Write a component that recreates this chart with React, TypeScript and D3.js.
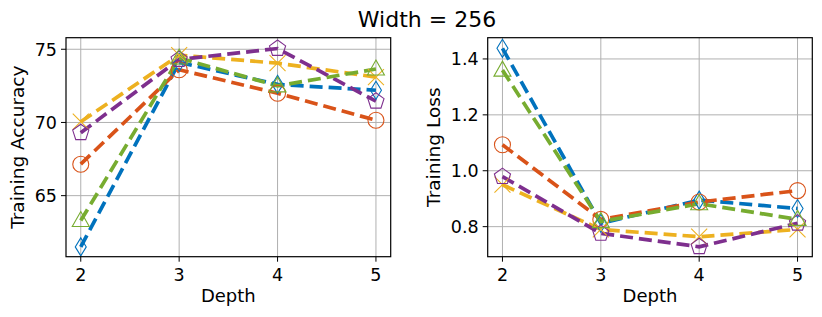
import React, { useEffect, useRef } from 'react'
import * as d3 from 'd3'

const depths = [2, 3, 4, 5]
const colors = ['#0072BD', '#D95319', '#EDB120', '#7E2F8E', '#77AC30']
const markers = ['diamond', 'circle', 'x', 'pentagon', 'triangle']

const accuracy = [
  [61.5, 74.1, 72.6, 72.2],
  [67.15, 73.6, 72.0, 70.15],
  [70.05, 74.6, 74.05, 73.1],
  [69.3, 74.3, 75.05, 71.45],
  [63.3, 74.4, 72.5, 73.65],
]
const loss = [
  [1.438, 0.812, 0.895, 0.865],
  [1.093, 0.826, 0.888, 0.929],
  [0.95, 0.79, 0.764, 0.79],
  [0.979, 0.776, 0.728, 0.812],
  [1.36, 0.818, 0.882, 0.826],
]
const accTicks = [65, 70, 75]
const lossTicks = [0.8, 1.0, 1.2, 1.4]

const W = 822
const H = 317
const font = 'DejaVu Sans, sans-serif'

function drawPanel(svg, opts) {
  const { left, right, top, bottom, yDomain, yTicks, data, yLabel, labelX, fmt } = opts
  const x = d3.scaleLinear().domain([1.85, 5.15]).range([left, right])
  const y = d3.scaleLinear().domain(yDomain).range([bottom, top])
  const g = svg.append('g')

  // grid
  g.selectAll('.vg').data(depths).join('line')
    .attr('class', 'vg')
    .attr('x1', d => x(d)).attr('x2', d => x(d)).attr('y1', top).attr('y2', bottom)
    .attr('stroke', '#b0b0b0').attr('stroke-width', 1)
  g.selectAll('.hg').data(yTicks).join('line')
    .attr('class', 'hg')
    .attr('x1', left).attr('x2', right).attr('y1', d => y(d)).attr('y2', d => y(d))
    .attr('stroke', '#b0b0b0').attr('stroke-width', 1)

  const plot = g.append('g')
  const line = d3.line().x((d, i) => x(depths[i])).y(d => y(d))
  const order = [0, 1, 2, 3, 4]
  order.forEach(si => {
    plot.append('path').datum(data[si]).attr('d', line)
      .attr('fill', 'none').attr('stroke', colors[si]).attr('stroke-width', 3.7)
      .attr('stroke-dasharray', '13,6')
  })
  order.forEach(si => {
    data[si].forEach((v, i) => {
      const m = plot.append('g').attr('transform', `translate(${x(depths[i])},${y(v)})`)
      const st = (sel) => sel.attr('fill', 'none').attr('stroke', colors[si]).attr('stroke-width', 1.1)
      const kind = markers[si]
      if (kind === 'circle') st(m.append('circle').attr('r', 8))
      else if (kind === 'diamond') st(m.append('path').attr('d', 'M0,-9L5.5,0L0,9L-5.5,0Z'))
      else if (kind === 'triangle') st(m.append('path').attr('d', 'M0,-9L8.5,6L-8.5,6Z'))
      else if (kind === 'x') st(m.append('path').attr('d', 'M-8,-8L8,8M-8,8L8,-8'))
      else if (kind === 'pentagon') {
        const pts = d3.range(5).map(k => {
          const a = -Math.PI / 2 + k * 2 * Math.PI / 5
          return [8.5 * Math.cos(a), 8.5 * Math.sin(a)]
        })
        st(m.append('path').attr('d', 'M' + pts.join('L') + 'Z'))
      }
    })
  })

  // frame
  g.append('rect').attr('x', left).attr('y', top).attr('width', right - left).attr('height', bottom - top)
    .attr('fill', 'none').attr('stroke', '#000').attr('stroke-width', 1.2)

  // ticks
  depths.forEach(d => {
    g.append('line').attr('x1', x(d)).attr('x2', x(d)).attr('y1', bottom).attr('y2', bottom + 5).attr('stroke', '#000')
    g.append('text').attr('x', x(d)).attr('y', bottom + 24).attr('text-anchor', 'middle')
      .attr('font-family', font).attr('font-size', 17.5).text(d)
  })
  yTicks.forEach(t => {
    g.append('line').attr('x1', left - 5).attr('x2', left).attr('y1', y(t)).attr('y2', y(t)).attr('stroke', '#000')
    g.append('text').attr('x', left - 9).attr('y', y(t) + 6.3).attr('text-anchor', 'end')
      .attr('font-family', font).attr('font-size', 17.5).text(fmt(t))
  })
  g.append('text').attr('x', (left + right) / 2).attr('y', bottom + 45).attr('text-anchor', 'middle')
    .attr('font-family', font).attr('font-size', 18).text('Depth')
  g.append('text').attr('transform', `translate(${labelX},${(top + bottom) / 2}) rotate(-90)`)
    .attr('text-anchor', 'middle').attr('font-family', font).attr('font-size', 18.5).text(yLabel)
}

export default function App() {
  const ref = useRef(null)
  useEffect(() => {
    const svg = d3.select(ref.current)
    svg.selectAll('*').remove()
    svg.append('text').attr('x', 427).attr('y', 27).attr('text-anchor', 'middle')
      .attr('font-family', font).attr('font-size', 22).text('Width = 256')
    drawPanel(svg, {
      left: 66, right: 390.7, top: 37.7, bottom: 256.7,
      yDomain: [60.83, 75.79], yTicks: accTicks, data: accuracy,
      yLabel: 'Training Accuracy', labelX: 24, fmt: d3.format('d'),
    })
    drawPanel(svg, {
      left: 487.7, right: 812.3, top: 37.7, bottom: 256.7,
      yDomain: [0.6925, 1.476], yTicks: lossTicks, data: loss,
      yLabel: 'Training Loss', labelX: 440, fmt: d3.format('.1f'),
    })
  }, [])
  return (
    <svg ref={ref} width={W} height={H} style={{ position: 'absolute', left: 0, top: 0, background: '#fff' }} />
  )
}
